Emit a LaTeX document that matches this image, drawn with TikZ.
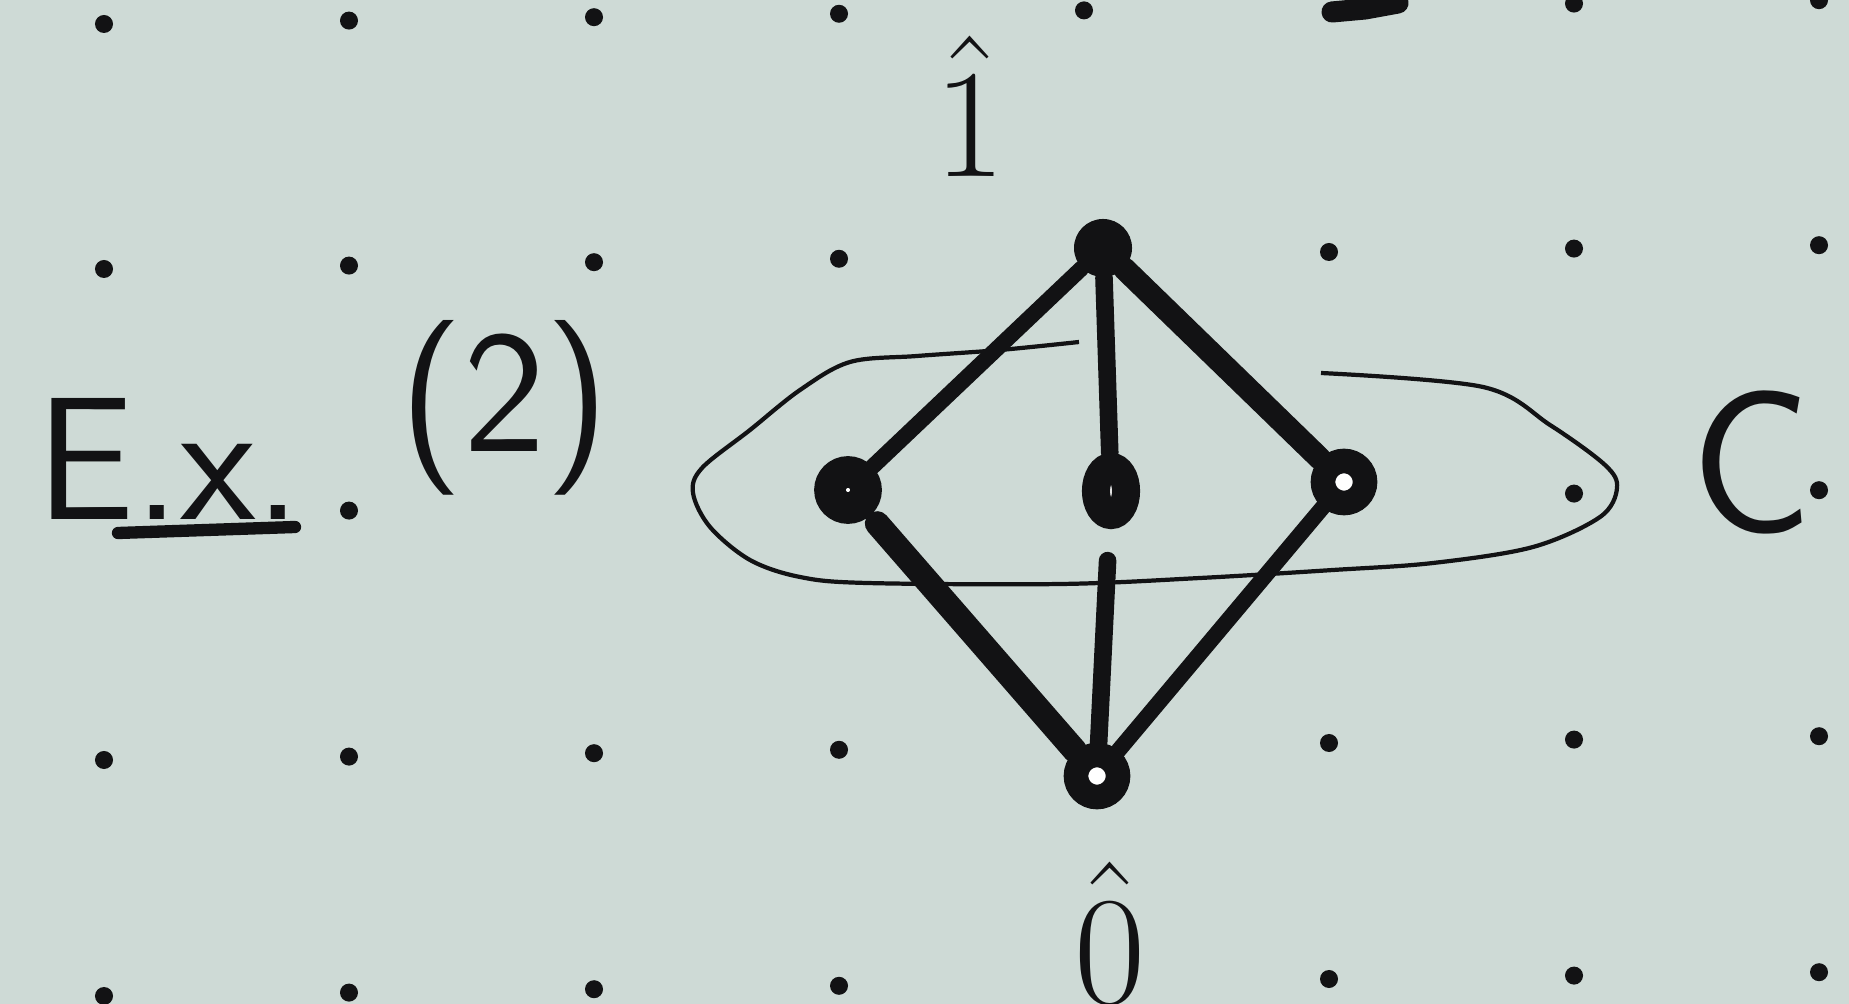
\documentclass[tikz,border=0pt]{standalone}
\usepackage{amsmath}
\usepackage{tikz}
\usetikzlibrary{shapes.geometric}

\definecolor{paper}{RGB}{206,218,214}
\definecolor{ink}{RGB}{18,18,20}

\begin{document}
\begin{tikzpicture}[x=0.01cm, y=-0.01cm,
    vtx/.style={circle, draw=ink, fill=white, line width=7pt, minimum size=0.42cm, inner sep=0pt},
    topvtx/.style={circle, fill=ink, minimum size=0.58cm, inner sep=0pt},
    hasse/.style={draw=ink, line width=5pt, line cap=round},
    hand/.style={text=ink, inner sep=0pt, font=\Huge}]

    % Paper
    \fill[paper] (0,0) rectangle (1849,1004);
    \useasboundingbox (0,0) rectangle (1849,1004);

    % Dot grid (rows rise a little to the right)
    \foreach \y/\cols in {24/{0,1,2,3,4,6,7}, 269/{0,1,2,3,5,6,7}, 514/{1,6,7}, 760/{0,1,2,3,5,6,7}, 996/{0,1,2,3,5,6,7}}
        \foreach \c in \cols
            \fill[ink] (104+245*\c, \y-3.4*\c) circle[radius=0.09cm];

    % Cut-off ink from the line above
    \draw[ink, line width=6pt, line cap=round] (1332,12) -- (1365,9) -- (1398,3);

    % Ellipse round the middle level
    \draw[ink, line width=1.2pt] plot[smooth, tension=0.55] coordinates {
        (1321,373) (1483,387) (1550,425) (1605,465) (1617,488) (1600,517)
        (1533,547) (1433,563) (1333,570) (1200,578) (1061,584) (867,583)
        (800,577) (750,560) (710,527) (693,493) (702,468) (750,430)
        (800,390) (850,362) (917,356) (1000,350) (1079,342)};

    % Hasse diagram
    \node[topvtx] (one) at (1103,248) {};
    \node[vtx, line width=9pt, minimum size=0.36cm] (xa) at (848,490) {};
    \node[vtx, ellipse, line width=8pt, minimum width=0.3cm, minimum height=0.48cm] (xb) at (1111,491) {};
    \node[vtx] (xc) at (1344,482) {};
    \node[vtx] (zero) at (1097,776) {};

    \draw[hasse, line width=4.5pt] (one) -- (xa);
    \draw[hasse, line width=5pt] (one) -- (xb);
    \draw[hasse, line width=6.5pt] (one) -- (xc);
    \draw[hasse, line width=7pt, shorten <=3pt] (xa) -- (zero);
    \draw[hasse, line width=5pt, shorten <=9pt] (xb) -- (zero);
    \draw[hasse, line width=4.5pt] (xc) -- (zero);

    % Labels
    \node[hand, scale=1.77, anchor=base] (lone) at (970,177) {$\hat{1}$};
    \node[hand, scale=1.77, anchor=base] (lzero) at (1110,1003) {$\hat{0}$};
    \node[hand, scale=2.33] (lC) at (1752,462) {\sffamily C};
    \node[hand, scale=2.0, anchor=base west] (ex) at (35,520) {\sffamily E.x.};
    \node[hand, scale=2.0, anchor=base west] (num) at (398,452) {\sffamily (2)};
    \draw[ink, line width=3.5pt, line cap=round] (118,533) -- (295,527);

\end{tikzpicture}
\end{document}
